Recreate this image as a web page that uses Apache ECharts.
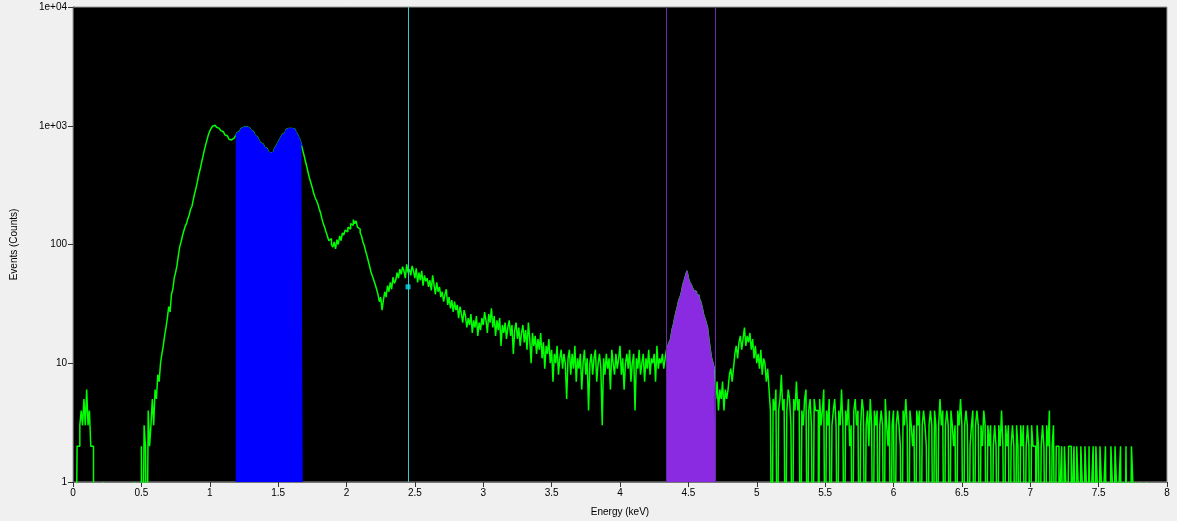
<!DOCTYPE html>
<html>
<head>
<meta charset="utf-8">
<title>Energy spectrum</title>
<script src="https://cdn.jsdelivr.net/npm/echarts@6/dist/echarts.min.js"></script>
<style>
  html, body { margin: 0; padding: 0; background: #f0f0f0; }
  #chart { width: 1177px; height: 521px; }
</style>
</head>
<body>
<div id="chart"></div>
<script>
// histogram bins: bin i covers [i*binWidth, (i+1)*binWidth] keV
const binWidth = 0.01;
const counts = [
  0, 0, 0, 2, 2, 3, 4, 3, 5, 3,
  6, 3, 4, 2, 2, 0, 0, 0, 0, 0,
  0, 0, 1, 0, 0, 0, 0, 0, 0, 0,
  0, 0, 0, 0, 0, 0, 0, 0, 0, 0,
  0, 0, 0, 0, 0, 1, 0, 0, 0, 0,
  2, 0, 3, 2, 0, 4, 2, 3, 5, 3,
  6, 5, 8, 7, 10, 12, 14, 17, 20, 24,
  30, 27, 38, 42, 52, 58, 66, 80, 95, 105,
  118, 130, 142, 150, 165, 178, 198, 210, 240, 270,
  300, 340, 390, 430, 490, 550, 620, 690, 760, 840,
  900, 950, 990, 1010, 1000, 970, 950, 930, 910, 890,
  870, 840, 820, 790, 770, 760, 740, 790, 810, 830,
  870, 900, 930, 950, 970, 990, 980, 975, 960, 940,
  920, 890, 860, 830, 800, 780, 750, 720, 700, 680,
  660, 640, 620, 600, 590, 580, 600, 630, 660, 690,
  720, 760, 800, 840, 870, 900, 930, 950, 960, 950,
  960, 940, 920, 890, 850, 800, 760, 690, 620, 560,
  500, 450, 400, 360, 330, 300, 270, 250, 235, 220,
  200, 185, 165, 150, 140, 128, 118, 108, 112, 100,
  95, 105, 92, 110, 100, 118, 108, 125, 120, 132,
  128, 140, 135, 150, 145, 162, 150, 158, 140, 135,
  125, 118, 105, 98, 88, 80, 72, 65, 58, 54,
  50, 46, 42, 38, 33, 36, 28, 34, 40, 36,
  45, 40, 48, 42, 53, 47, 50, 58, 52, 62,
  56, 65, 60, 52, 68, 58, 62, 55, 66, 60,
  52, 63, 48, 58, 50, 60, 45, 55, 49, 52,
  44, 50, 41, 55, 46, 38, 48, 40, 44, 36,
  40, 33, 38, 42, 31, 36, 29, 34, 27, 33,
  28, 31, 24, 30, 26, 22, 28, 25, 20, 24,
  21, 26, 18, 23, 20, 25, 17, 22, 19, 24,
  21, 27, 23, 18, 26, 22, 29, 20, 25, 17,
  23, 19, 24, 14, 21, 18, 22, 16, 20, 23,
  17, 21, 12, 19, 22, 16, 20, 14, 18, 21,
  15, 19, 13, 22, 16, 10, 18, 14, 17, 12,
  16, 13, 18, 11, 15, 9, 14, 12, 16, 10,
  13, 7, 12, 10, 14, 8, 11, 13, 9, 12,
  10, 5, 11, 13, 8, 12, 9, 14, 7, 11,
  9, 12, 6, 10, 13, 8, 11, 4, 10, 12,
  8, 11, 13, 7, 10, 12, 9, 3, 11, 8,
  12, 9, 11, 6, 13, 10, 8, 12, 9, 11,
  14, 8, 11, 6, 10, 12, 9, 13, 7, 10,
  12, 4, 11, 9, 13, 8, 10, 12, 7, 11,
  9, 13, 8, 11, 10, 12, 7, 14, 9, 11,
  10, 12, 9, 11, 13, 14, 15, 16, 19, 21,
  24, 27, 30, 34, 36, 40, 46, 50, 55, 60,
  52, 48, 46, 43, 41, 40, 38, 37, 35, 33,
  30, 26, 24, 22, 20, 16, 13, 11, 10, 9,
  5, 7, 4, 6, 5, 7, 4, 6, 5, 6,
  8, 9, 7, 9, 12, 14, 11, 15, 17, 13,
  16, 20, 14, 17, 15, 18, 13, 16, 11, 14,
  10, 12, 9, 13, 8, 11, 10, 7, 9, 6,
  4, 0, 5, 4, 6, 0, 4, 5, 8, 4,
  5, 0, 4, 6, 5, 3, 0, 5, 4, 7,
  4, 5, 0, 4, 3, 5, 6, 0, 4, 5,
  3, 0, 5, 4, 4, 0, 5, 3, 4, 6,
  0, 4, 3, 5, 0, 3, 4, 5, 3, 0,
  4, 3, 6, 3, 0, 4, 3, 5, 2, 3,
  0, 4, 5, 3, 4, 0, 3, 5, 4, 0,
  3, 4, 2, 5, 3, 0, 4, 3, 4, 0,
  3, 4, 3, 0, 5, 3, 2, 4, 0, 3,
  4, 0, 3, 4, 3, 2, 0, 4, 3, 5,
  3, 0, 4, 3, 2, 3, 0, 4, 3, 4,
  0, 3, 4, 3, 2, 0, 3, 4, 3, 0,
  4, 3, 0, 3, 5, 3, 4, 0, 3, 4,
  3, 0, 4, 3, 2, 3, 0, 4, 3, 5,
  3, 0, 3, 4, 3, 0, 2, 3, 4, 0,
  3, 4, 3, 0, 3, 2, 4, 3, 0, 3,
  2, 3, 0, 2, 3, 2, 0, 3, 2, 4,
  2, 0, 3, 2, 3, 0, 2, 3, 2, 0,
  3, 2, 0, 3, 2, 3, 0, 2, 3, 2,
  0, 3, 2, 2, 0, 3, 2, 0, 2, 3,
  2, 0, 3, 2, 4, 0, 2, 3, 0, 2,
  2, 0, 1, 2, 0, 2, 1, 0, 2, 2,
  0, 1, 2, 0, 2, 1, 0, 2, 1, 0,
  2, 1, 0, 2, 0, 1, 2, 0, 2, 1,
  0, 2, 1, 0, 1, 2, 0, 1, 0, 2,
  1, 0, 2, 1, 0, 1, 2, 0, 1, 0,
  2, 0, 1, 0, 2, 1, 0, 1, 0, 0,
  1, 0, 0, 0, 0, 1, 0, 0, 0, 0,
  0, 0, 0, 0, 0, 0, 0, 0, 0, 0
];

// highlighted regions of interest (keV)
const blueRoi = [1.19, 1.68];
const purpleRoi = [4.34, 4.70];
const cursorEnergy = 2.45;
const cursorCounts = 44;

const yTicks = [1, 10, 100, 1000, 10000];

// log axis cannot show 0, empty bins are pushed below the axis and clipped
const emptyLevel = 0.1;

const toPoints = (from, to) => {
  const pts = [];
  for (let i = from; i < to; i++) {
    pts.push([+(i * binWidth).toFixed(2), counts[i] > 0 ? counts[i] : emptyLevel]);
  }
  // closing edge of the last bin
  const last = counts[to - 1] > 0 ? counts[to - 1] : emptyLevel;
  pts.push([+(to * binWidth).toFixed(2), last]);
  return pts;
};

const binIndex = (e) => Math.round(e / binWidth);

const chart = echarts.init(document.getElementById('chart'));

const axisFont = { fontFamily: 'Liberation Sans, Arial, sans-serif', fontSize: 10, color: '#000' };

const formatLog = (v) => {
  if (v >= 1000) {
    const e = Math.round(Math.log10(v));
    return '1e+' + String(e).padStart(2, '0');
  }
  return String(v);
};

const option = {
  backgroundColor: '#f0f0f0',
  animation: false,
  grid: {
    left: 73,
    right: 10,
    top: 7,
    bottom: 39,
    outerBoundsMode: 'none',
    show: true,
    backgroundColor: '#000',
    borderColor: '#9a9a9a',
    borderWidth: 1
  },
  xAxis: {
    type: 'value',
    min: 0,
    max: 8,
    interval: 0.5,
    name: 'Energy (keV)',
    nameLocation: 'middle',
    nameGap: 25,
    nameTextStyle: axisFont,
    axisLine: { show: true, onZero: false, lineStyle: { color: '#777' } },
    axisTick: { show: true, length: 5, lineStyle: { color: '#333' } },
    axisLabel: Object.assign({ margin: 6 }, axisFont),
    splitLine: { show: false }
  },
  yAxis: {
    type: 'log',
    logBase: 10,
    min: yTicks[0],
    max: yTicks[yTicks.length - 1],
    name: 'Events (Counts)',
    nameLocation: 'middle',
    nameGap: 54,
    nameTextStyle: axisFont,
    axisLine: { show: true, lineStyle: { color: '#555' } },
    axisTick: { show: true, length: 5, lineStyle: { color: '#333' } },
    axisLabel: Object.assign({ margin: 6, formatter: formatLog }, axisFont),
    splitLine: { show: false },
    minorTick: { show: false }
  },
  series: [
    {
      name: 'spectrum',
      type: 'line',
      step: 'end',
      showSymbol: false,
      clip: true,
      data: toPoints(0, counts.length),
      lineStyle: { color: '#00ff00', width: 1.5 },
      z: 2,
      markLine: {
        silent: true,
        symbol: 'none',
        label: { show: false },
        data: [
          { xAxis: cursorEnergy, lineStyle: { color: '#33cccc', width: 1, type: 'solid' } },
          { xAxis: purpleRoi[0], lineStyle: { color: '#6b2aa8', width: 1, type: 'solid' } },
          { xAxis: purpleRoi[1], lineStyle: { color: '#6b2aa8', width: 1, type: 'solid' } }
        ]
      }
    },
    {
      name: 'roi blue',
      type: 'line',
      step: 'end',
      showSymbol: false,
      data: toPoints(binIndex(blueRoi[0]), binIndex(blueRoi[1])),
      lineStyle: { color: '#0000ff', width: 1 },
      areaStyle: { color: '#0000ff', opacity: 1, origin: 1 },
      z: 3
    },
    {
      name: 'roi purple',
      type: 'line',
      step: 'end',
      showSymbol: false,
      data: toPoints(binIndex(purpleRoi[0]), binIndex(purpleRoi[1])),
      lineStyle: { color: '#8a2be2', width: 1 },
      areaStyle: { color: '#8a2be2', opacity: 1, origin: 1 },
      z: 3
    },
    {
      name: 'cursor',
      type: 'scatter',
      symbol: 'rect',
      symbolSize: 5,
      data: [[cursorEnergy, cursorCounts]],
      itemStyle: { color: '#00e5ff' },
      z: 4
    }
  ]
};

chart.setOption(option);
</script>
</body>
</html>
